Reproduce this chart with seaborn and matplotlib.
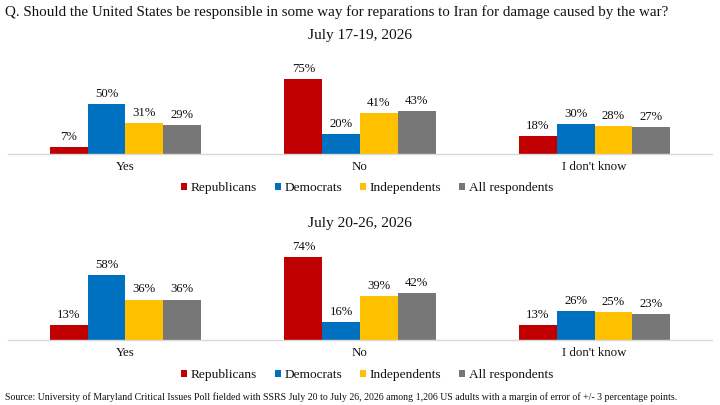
import numpy as np
import pandas as pd
import matplotlib
matplotlib.use('Agg')
import matplotlib.pyplot as plt
import seaborn as sns
from matplotlib.patches import Patch

answers = ["Yes", "No", "I don't know"]
groups = ["Republicans", "Democrats", "Independents", "All respondents"]
colors = ["#C00000", "#0070C0", "#FFC000", "#777777"]

# values per answer, in order of groups
wave1_yes = [7, 50, 31, 29]
wave1_no = [75, 20, 41, 43]
wave1_idk = [18, 30, 28, 27]

wave2_yes = [13, 58, 36, 36]
wave2_no = [74, 16, 39, 42]
wave2_idk = [13, 26, 25, 23]

title = "Q. Should the United States be responsible in some way for reparations to Iran for damage caused by the war?"
wave1_title = "July 17-19, 2026"
wave2_title = "July 20-26, 2026"
source = ("Source: University of Maryland Critical Issues Poll fielded with SSRS July 20 to July 26, 2026 "
          "among 1,206 US adults with a margin of error of +/- 3 percentage points.")


def make_df(yes, no, idk):
    rows = []
    for ans, vals in zip(answers, [yes, no, idk]):
        for g, v in zip(groups, vals):
            rows.append({"answer": ans, "group": g, "value": v})
    return pd.DataFrame(rows)


sns.set_style("white")
plt.rcParams['font.family'] = ['Liberation Serif', 'DejaVu Serif']

W, H = 720, 405
fig = plt.figure(figsize=(7.2, 4.05), dpi=100)


def px_axes(left, top, right, bottom):
    return fig.add_axes([left / W, 1 - bottom / H, (right - left) / W, (bottom - top) / H])


def draw_panel(ax, df, ymax):
    sns.barplot(data=df, x="answer", y="value", hue="group", hue_order=groups,
                palette=colors, width=0.644, gap=0, saturation=1, linewidth=0,
                ax=ax, legend=False)
    for cont in ax.containers:
        ax.bar_label(cont, labels=[f"{v:.0f}%" for v in cont.datavalues],
                     padding=3, fontsize=9.2, color="#111111")
    ax.set_xlim(-0.5, 2.5)
    ax.set_ylim(0, ymax)
    ax.set_xlabel("")
    ax.set_ylabel("")
    ax.set_yticks([])
    ax.tick_params(axis="x", length=0, pad=5, labelsize=9.3, labelcolor="#111111")
    for s in ["top", "left", "right"]:
        ax.spines[s].set_visible(False)
    ax.spines["bottom"].set_color("#D9D9D9")
    ax.spines["bottom"].set_linewidth(1)


ax1 = px_axes(8, 66, 712, 154)
draw_panel(ax1, make_df(wave1_yes, wave1_no, wave1_idk), 88)

ax2 = px_axes(8, 250, 712, 340)
draw_panel(ax2, make_df(wave2_yes, wave2_no, wave2_idk), 90 / 1.122)

handles = [Patch(facecolor=c, edgecolor="none") for c in colors]
for ypx in [188, 375]:
    fig.legend(handles, groups, loc="center", bbox_to_anchor=(367 / W, 1 - ypx / H),
               ncol=4, frameon=False, fontsize=9.6, handlelength=0.45, handleheight=0.45,
               handletextpad=0.3, columnspacing=1.3, borderpad=0, labelcolor="#111111")

fig.text(5 / W, 1 - 12 / H, title, ha="left", va="center", fontsize=10.8, color="#111111")
fig.text(360 / W, 1 - 35 / H, wave1_title, ha="center", va="center", fontsize=11.1, color="#111111")
fig.text(360 / W, 1 - 223 / H, wave2_title, ha="center", va="center", fontsize=11.1, color="#111111")
fig.text(5 / W, 1 - 397 / H, source, ha="left", va="center", fontsize=7.1, color="#111111")

fig.savefig("out.png", dpi=100)
